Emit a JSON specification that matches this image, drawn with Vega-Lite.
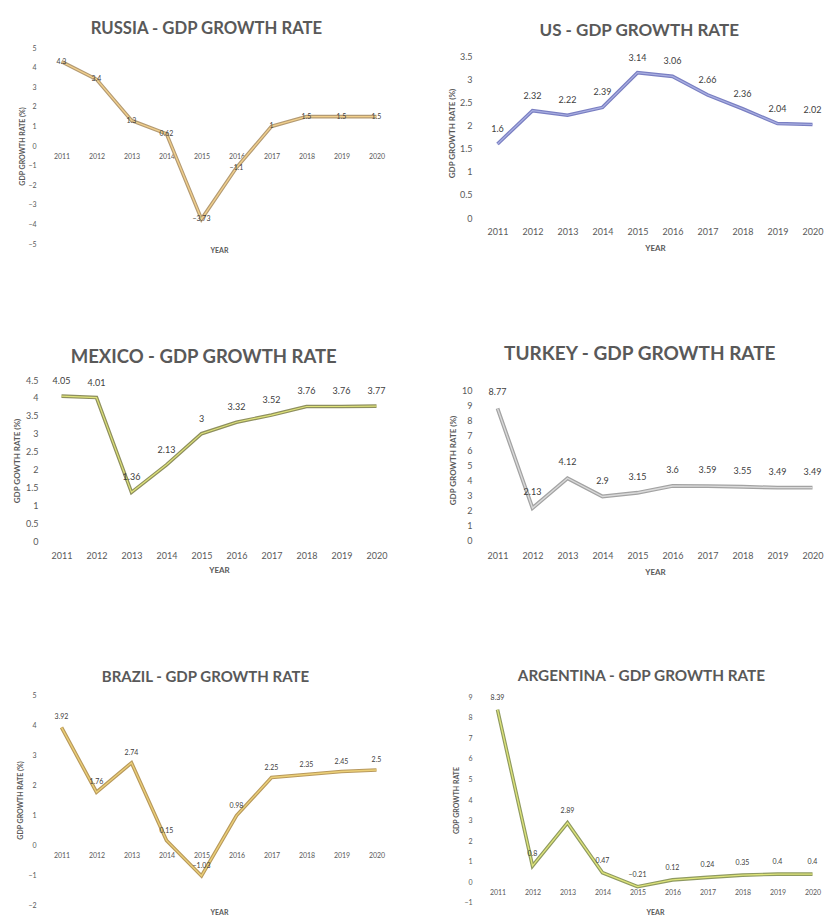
{
  "$schema": "https://vega.github.io/schema/vega-lite/v6.json",
  "background": "white",
  "padding": {"left": 13, "top": 21, "right": 0, "bottom": 0},
  "columns": 2,
  "align": "each",
  "spacing": {"row": 92, "column": 54},
  "datasets": {
    "gdp": [
      {"country": "Russia", "year": "2011", "value": 4.3},
      {"country": "Russia", "year": "2012", "value": 3.4},
      {"country": "Russia", "year": "2013", "value": 1.3},
      {"country": "Russia", "year": "2014", "value": 0.62},
      {"country": "Russia", "year": "2015", "value": -3.73},
      {"country": "Russia", "year": "2016", "value": -1.1},
      {"country": "Russia", "year": "2017", "value": 1},
      {"country": "Russia", "year": "2018", "value": 1.5},
      {"country": "Russia", "year": "2019", "value": 1.5},
      {"country": "Russia", "year": "2020", "value": 1.5},
      {"country": "US", "year": "2011", "value": 1.6},
      {"country": "US", "year": "2012", "value": 2.32},
      {"country": "US", "year": "2013", "value": 2.22},
      {"country": "US", "year": "2014", "value": 2.39},
      {"country": "US", "year": "2015", "value": 3.14},
      {"country": "US", "year": "2016", "value": 3.06},
      {"country": "US", "year": "2017", "value": 2.66},
      {"country": "US", "year": "2018", "value": 2.36},
      {"country": "US", "year": "2019", "value": 2.04},
      {"country": "US", "year": "2020", "value": 2.02},
      {"country": "Mexico", "year": "2011", "value": 4.05},
      {"country": "Mexico", "year": "2012", "value": 4.01},
      {"country": "Mexico", "year": "2013", "value": 1.36},
      {"country": "Mexico", "year": "2014", "value": 2.13},
      {"country": "Mexico", "year": "2015", "value": 3},
      {"country": "Mexico", "year": "2016", "value": 3.32},
      {"country": "Mexico", "year": "2017", "value": 3.52},
      {"country": "Mexico", "year": "2018", "value": 3.76},
      {"country": "Mexico", "year": "2019", "value": 3.76},
      {"country": "Mexico", "year": "2020", "value": 3.77},
      {"country": "Turkey", "year": "2011", "value": 8.77},
      {"country": "Turkey", "year": "2012", "value": 2.13},
      {"country": "Turkey", "year": "2013", "value": 4.12},
      {"country": "Turkey", "year": "2014", "value": 2.9},
      {"country": "Turkey", "year": "2015", "value": 3.15},
      {"country": "Turkey", "year": "2016", "value": 3.6},
      {"country": "Turkey", "year": "2017", "value": 3.59},
      {"country": "Turkey", "year": "2018", "value": 3.55},
      {"country": "Turkey", "year": "2019", "value": 3.49},
      {"country": "Turkey", "year": "2020", "value": 3.49},
      {"country": "Brazil", "year": "2011", "value": 3.92},
      {"country": "Brazil", "year": "2012", "value": 1.76},
      {"country": "Brazil", "year": "2013", "value": 2.74},
      {"country": "Brazil", "year": "2014", "value": 0.15},
      {"country": "Brazil", "year": "2015", "value": -1.03},
      {"country": "Brazil", "year": "2016", "value": 0.98},
      {"country": "Brazil", "year": "2017", "value": 2.25},
      {"country": "Brazil", "year": "2018", "value": 2.35},
      {"country": "Brazil", "year": "2019", "value": 2.45},
      {"country": "Brazil", "year": "2020", "value": 2.5},
      {"country": "Argentina", "year": "2011", "value": 8.39},
      {"country": "Argentina", "year": "2012", "value": 0.8},
      {"country": "Argentina", "year": "2013", "value": 2.89},
      {"country": "Argentina", "year": "2014", "value": 0.47},
      {"country": "Argentina", "year": "2015", "value": -0.21},
      {"country": "Argentina", "year": "2016", "value": 0.12},
      {"country": "Argentina", "year": "2017", "value": 0.24},
      {"country": "Argentina", "year": "2018", "value": 0.35},
      {"country": "Argentina", "year": "2019", "value": 0.4},
      {"country": "Argentina", "year": "2020", "value": 0.4}
    ]
  },
  "concat": [
    {
      "title": {"text": "RUSSIA - GDP GROWTH RATE", "offset": 6, "fontSize": 16.7},
      "width": 350,
      "height": 196,
      "data": {"name": "gdp"},
      "transform": [{"filter": "datum.country === 'Russia'"}],
      "encoding": {
        "x": {"field": "year", "type": "ordinal", "axis": {"title": "YEAR", "labelAngle": 0, "labelFontSize": 7, "titleFontSize": 7, "offset": -98, "labelPadding": 6, "titleY": 104, "titleBaseline": "middle"}},
        "y": {"field": "value", "type": "quantitative", "scale": {"domain": [-5, 5], "nice": false, "zero": false}, "axis": {"title": "GDP GROWTH RATE (%)", "values": [-5, -4, -3, -2, -1, 0, 1, 2, 3, 4, 5], "format": "~f", "labelFontSize": 7, "titleFontSize": 7, "labelPadding": 8, "titlePadding": 2, "labelOverlap": false}}
      },
      "layer": [
        {"mark": {"type": "line", "color": "#b39a73", "strokeWidth": 3.6}},
        {"mark": {"type": "line", "color": "#f2d08c", "strokeWidth": 1.3}},
        {"mark": {"type": "text", "fontSize": 7, "color": "#404040"}, "encoding": {"text": {"field": "value", "type": "quantitative", "format": "~g"}}}
      ]
    },
    {
      "title": {"text": "US - GDP GROWTH RATE", "offset": 8, "fontSize": 17},
      "width": 350,
      "height": 170,
      "data": {"name": "gdp"},
      "transform": [{"filter": "datum.country === 'US'"}],
      "encoding": {
        "x": {"field": "year", "type": "ordinal", "axis": {"title": "YEAR", "labelAngle": 0, "labelPadding": 9, "titlePadding": 8}},
        "y": {"field": "value", "type": "quantitative", "scale": {"domain": [0, 3.673], "nice": false}, "axis": {"title": "GDP GROWTH RATE (%)", "values": [0, 0.5, 1, 1.5, 2, 2.5, 3, 3.5], "format": "~f", "labelPadding": 8, "titlePadding": 3}}
      },
      "layer": [
        {"mark": {"type": "line", "color": "#7a7fc2", "strokeWidth": 3.6}},
        {"mark": {"type": "line", "color": "#aab0e2", "strokeWidth": 1.2}},
        {"mark": {"type": "text", "fontSize": 9, "color": "#404040", "dy": -15}, "encoding": {"text": {"field": "value", "type": "quantitative", "format": "~g"}}}
      ]
    },
    {
      "title": {"text": "MEXICO - GDP GROWTH RATE", "offset": 10, "fontSize": 18.5},
      "width": 350,
      "height": 161,
      "data": {"name": "gdp"},
      "transform": [{"filter": "datum.country === 'Mexico'"}],
      "encoding": {
        "x": {"field": "year", "type": "ordinal", "axis": {"title": "YEAR", "labelAngle": 0, "labelPadding": 10, "titlePadding": 6}},
        "y": {"field": "value", "type": "quantitative", "scale": {"domain": [0, 4.5], "nice": false}, "axis": {"title": "GDP GOWTH RATE (%)", "values": [0, 0.5, 1, 1.5, 2, 2.5, 3, 3.5, 4, 4.5], "format": "~f", "labelPadding": 6, "titlePadding": 4}}
      },
      "layer": [
        {"mark": {"type": "line", "color": "#8e8f5e", "strokeWidth": 3.6}},
        {"mark": {"type": "line", "color": "#dfe37a", "strokeWidth": 1.2}},
        {"mark": {"type": "text", "fontSize": 9, "color": "#404040", "dy": -15}, "encoding": {"text": {"field": "value", "type": "quantitative", "format": "~g"}}}
      ]
    },
    {
      "title": {"text": "TURKEY - GDP GROWTH RATE", "offset": 16, "fontSize": 19},
      "width": 350,
      "height": 160,
      "data": {"name": "gdp"},
      "transform": [{"filter": "datum.country === 'Turkey'"}],
      "encoding": {
        "x": {"field": "year", "type": "ordinal", "axis": {"title": "YEAR", "labelAngle": 0, "labelPadding": 11, "titlePadding": 8}},
        "y": {"field": "value", "type": "quantitative", "scale": {"domain": [0, 10.667], "nice": false}, "axis": {"title": "GDP GROWTH RATE (%)", "values": [0, 1, 2, 3, 4, 5, 6, 7, 8, 9, 10], "format": "~f", "labelPadding": 8, "titlePadding": 4}}
      },
      "layer": [
        {"mark": {"type": "line", "color": "#a3a3a3", "strokeWidth": 3.8}},
        {"mark": {"type": "line", "color": "#dadada", "strokeWidth": 1.3}},
        {"mark": {"type": "text", "fontSize": 9, "color": "#404040", "dy": -16}, "encoding": {"text": {"field": "value", "type": "quantitative", "format": "~g"}}}
      ]
    },
    {
      "title": {"text": "BRAZIL - GDP GROWTH RATE", "offset": 6, "fontSize": 15},
      "width": 350,
      "height": 210,
      "data": {"name": "gdp"},
      "transform": [{"filter": "datum.country === 'Brazil'"}],
      "encoding": {
        "x": {"field": "year", "type": "ordinal", "axis": {"title": "YEAR", "labelAngle": 0, "labelFontSize": 7, "titleFontSize": 7, "offset": -60, "labelPadding": 6, "titleY": 67, "titleBaseline": "middle"}},
        "y": {"field": "value", "type": "quantitative", "scale": {"domain": [-2, 5], "nice": false, "zero": false}, "axis": {"title": "GDP GROWTH RATE (%)", "values": [-2, -1, 0, 1, 2, 3, 4, 5], "format": "~f", "labelFontSize": 7, "titleFontSize": 7, "labelPadding": 8, "titlePadding": 4}}
      },
      "layer": [
        {"mark": {"type": "line", "color": "#b8995c", "strokeWidth": 3.6}},
        {"mark": {"type": "line", "color": "#ecd078", "strokeWidth": 1.3}},
        {"mark": {"type": "text", "fontSize": 7, "color": "#404040", "dy": -10}, "encoding": {"text": {"field": "value", "type": "quantitative", "format": "~g"}}}
      ]
    },
    {
      "title": {"text": "ARGENTINA - GDP GROWTH RATE", "offset": 9, "fontSize": 15.3},
      "width": 350,
      "height": 210,
      "data": {"name": "gdp"},
      "transform": [{"filter": "datum.country === 'Argentina'"}],
      "encoding": {
        "x": {"field": "year", "type": "ordinal", "axis": {"title": "YEAR", "labelAngle": 0, "labelFontSize": 7, "titleFontSize": 7, "offset": -22.6, "labelPadding": 6, "titleY": 29.6, "titleBaseline": "middle"}},
        "y": {"field": "value", "type": "quantitative", "scale": {"domain": [-1.1, 9.1], "nice": false, "zero": false}, "axis": {"title": "GDP GROWTH RATE", "values": [-1, 0, 1, 2, 3, 4, 5, 6, 7, 8, 9], "format": "~f", "labelFontSize": 7, "titleFontSize": 7, "labelPadding": 8, "titlePadding": 4}}
      },
      "layer": [
        {"mark": {"type": "line", "color": "#8f9a60", "strokeWidth": 3.6}},
        {"mark": {"type": "line", "color": "#dfe57a", "strokeWidth": 1.3}},
        {"mark": {"type": "text", "fontSize": 7, "color": "#404040", "dy": -12}, "encoding": {"text": {"field": "value", "type": "quantitative", "format": "~g"}}}
      ]
    }
  ],
  "config": {
    "font": "Lato",
    "view": {"stroke": null},
    "axis": {
      "grid": false,
      "domain": false,
      "ticks": false,
      "labelColor": "#595959",
      "titleColor": "#595959",
      "labelFontSize": 9,
      "titleFontSize": 8,
      "titleFontWeight": "bold"
    },
    "title": {
      "fontSize": 17,
      "fontWeight": "bold",
      "color": "#595959",
      "anchor": "middle",
      "frame": "bounds"
    }
  }
}
